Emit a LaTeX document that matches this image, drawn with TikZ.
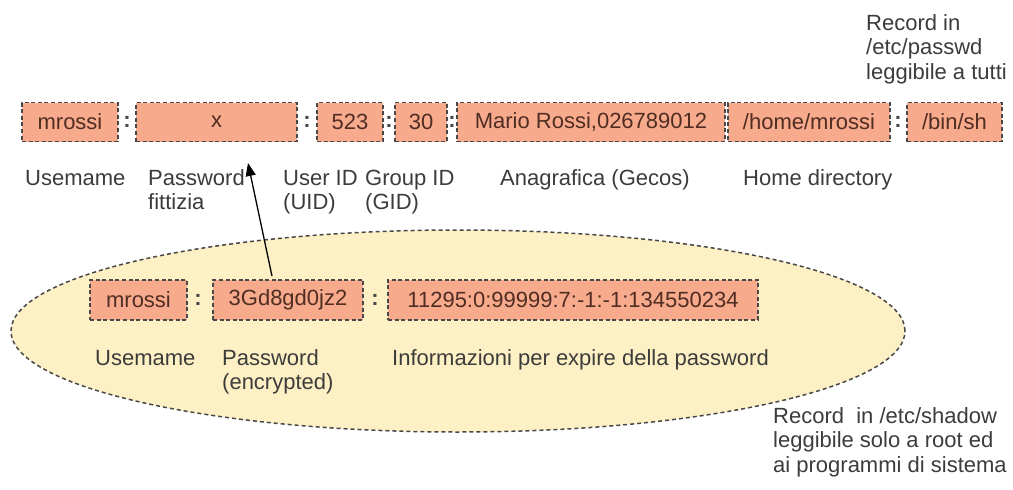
\documentclass[tikz,border=0pt]{standalone}
\usepackage{fontspec}
\setmainfont{Liberation Sans}
\usetikzlibrary{arrows.meta,shapes.geometric}
\definecolor{fieldfill}{RGB}{247,170,140}
\definecolor{shadowfill}{RGB}{253,240,196}
\definecolor{edgegray}{RGB}{72,72,72}
\definecolor{fieldtext}{RGB}{80,45,35}
\definecolor{labeltext}{RGB}{60,60,60}
\tikzset{
  field/.style={draw=edgegray, line width=1.8pt, dash pattern=on 4pt off 2.6pt,
    fill=fieldfill, minimum height=39pt, inner sep=0pt, text=fieldtext},
  colon/.style={inner sep=0pt, text=edgegray, font=\fontsize{22}{24}\bfseries},
  % the base anchor of a multi-line label sits on its last line
  lbl/.style={anchor=base west, inner sep=0pt, text=labeltext, align=left},
}
\begin{document}
\begin{tikzpicture}[x=1pt, y=-1pt, font=\fontsize{22}{24.5}\selectfont]
\useasboundingbox[fill=white] (0,0) rectangle (1013,490);

% /etc/shadow record area
\node[ellipse, draw=edgegray, line width=1.5pt, dash pattern=on 4pt off 3pt,
  fill=shadowfill, minimum width=894pt, minimum height=202pt, inner sep=0pt]
  (shadow) at (458,331) {};

% /etc/passwd fields
\node[field, minimum width=96pt]  (pu) at (70,122)   {mrossi};
\node[colon]                      (c1) at (127,122)  {:};
\node[field, minimum width=161pt] (pp) at (216.5,122) {x};
\node[colon]                      (c2) at (307,122)  {:};
\node[field, minimum width=66pt]  (pid) at (350,122) {523};
\node[colon]                      (c3) at (389,122)  {:};
\node[field, minimum width=52pt]  (pgid) at (421,122) {30};
\node[colon]                      (c4) at (452,122)  {:};
\node[field, minimum width=268pt] (pgec) at (591,122) {Mario Rossi,026789012};
\node[field, minimum width=162pt] (phome) at (809,122) {/home/mrossi};
\node[colon]                      (c5) at (898,122)  {:};
\node[field, minimum width=95pt]  (psh) at (954.5,122) {/bin/sh};

% /etc/passwd field names
\node[lbl] (lu)   at (25,185)    {Usemame};
\node[lbl] (lp)   at (148,209.5) {Password\\fittizia};
\node[lbl] (lid)  at (283,209.5) {User ID\\(UID)};
\node[lbl] (lgid) at (365,209.5) {Group ID\\(GID)};
\node[lbl] (lgec) at (500,185)   {Anagrafica (Gecos)};
\node[lbl] (lhome) at (743,185)  {Home directory};

\node[lbl] (tpasswd) at (866,79) {Record in\\/etc/passwd\\leggibile a tutti};

% /etc/shadow fields
\node[field, minimum width=97pt, minimum height=40pt]  (su) at (138.5,300) {mrossi};
\node[colon]                                          (c6) at (198,300)   {:};
\node[field, minimum width=150pt, minimum height=40pt] (sp) at (288,300)   {3Gd8gd0jz2};
\node[colon]                                          (c7) at (375,300)   {:};
\node[field, minimum width=370pt, minimum height=40pt] (sexp) at (573,300) {11295:0:99999:7:-1:-1:134550234};

% /etc/shadow field names
\node[lbl] (su2) at (95,365)    {Usemame};
\node[lbl] (sp2) at (222,389.5) {Password\\(encrypted)};
\node[lbl] (sexp2) at (392,365) {Informazioni per expire della password};

\node[lbl] (tshadow) at (773,472) {Record~ in /etc/shadow\\leggibile solo a root ed\\ai programmi di sistema};

% encrypted password stands behind the dummy one
\coordinate (tip) at (248,163);
\draw[line width=1.3pt, -{Triangle[length=13pt, width=10pt]}]
  ([xshift=-16pt, yshift=3pt]sp.north) -- (tip);
\end{tikzpicture}
\end{document}
